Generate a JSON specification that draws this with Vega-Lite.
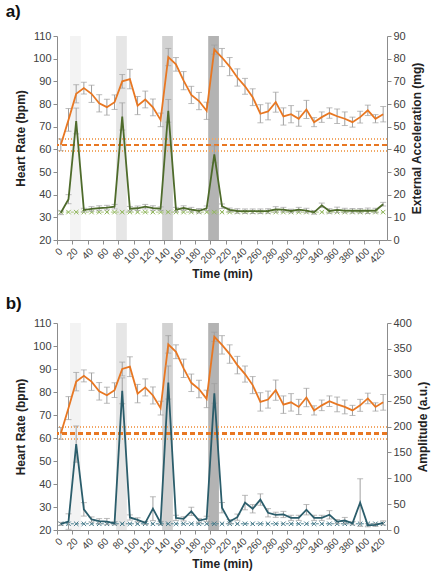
{
  "$schema": "https://vega.github.io/schema/vega-lite/v6.json",
  "padding": {"left": 5, "top": 3, "right": 4, "bottom": 4},
  "spacing": 15,
  "config": {
    "font": "Liberation Sans",
    "view": {"stroke": null},
    "axis": {
      "grid": false,
      "domainColor": "#8c8c8c",
      "tickColor": "#8c8c8c",
      "tickSize": 4,
      "labelColor": "#404040",
      "labelFontSize": 11,
      "titleFontSize": 12,
      "titleFontWeight": "bold",
      "titleColor": "#222222"
    },
    "title": {"fontSize": 17, "fontWeight": "bold", "anchor": "start", "color": "#111111"}
  },
  "datasets": {
    "bands": [
      {"s": 17, "e": 31, "block": 1},
      {"s": 77, "e": 91, "block": 2},
      {"s": 137, "e": 151, "block": 3},
      {"s": 197, "e": 211, "block": 4}
    ],
    "series": [
      {"t": 5, "hr": 62, "hrErr": 2.6, "acc": 12, "accErr": 0.8, "amp": 11.8, "ampErr": 3},
      {"t": 15, "hr": 73, "hrErr": 5, "acc": 18, "accErr": 2, "amp": 16.3, "ampErr": 15},
      {"t": 25, "hr": 84.5, "hrErr": 4, "acc": 52.5, "accErr": 5.7, "amp": 166, "ampErr": 35},
      {"t": 35, "hr": 87, "hrErr": 2.6, "acc": 13.2, "accErr": 0.8, "amp": 39.9, "ampErr": 13},
      {"t": 45, "hr": 84.5, "hrErr": 3.8, "acc": 13.7, "accErr": 1, "amp": 20.3, "ampErr": 5},
      {"t": 55, "hr": 80.3, "hrErr": 3.8, "acc": 14.1, "accErr": 1, "amp": 17, "ampErr": 5},
      {"t": 65, "hr": 78.6, "hrErr": 3.5, "acc": 14.3, "accErr": 1, "amp": 16.3, "ampErr": 6},
      {"t": 75, "hr": 80.8, "hrErr": 3.2, "acc": 14.7, "accErr": 1, "amp": 13, "ampErr": 3},
      {"t": 85, "hr": 90, "hrErr": 3, "acc": 54.5, "accErr": 6, "amp": 269, "ampErr": 25},
      {"t": 95, "hr": 91, "hrErr": 4.3, "acc": 13.8, "accErr": 1, "amp": 24.2, "ampErr": 5},
      {"t": 105, "hr": 79.3, "hrErr": 4, "acc": 14, "accErr": 1, "amp": 19.6, "ampErr": 4},
      {"t": 115, "hr": 82, "hrErr": 3.7, "acc": 14.7, "accErr": 1, "amp": 13.7, "ampErr": 3},
      {"t": 125, "hr": 78.5, "hrErr": 3.7, "acc": 14.1, "accErr": 1, "amp": 41.2, "ampErr": 23},
      {"t": 135, "hr": 73, "hrErr": 3, "acc": 13.8, "accErr": 0.8, "amp": 13.7, "ampErr": 3},
      {"t": 145, "hr": 100.7, "hrErr": 3.8, "acc": 57, "accErr": 5, "amp": 285, "ampErr": 32},
      {"t": 155, "hr": 97.5, "hrErr": 3, "acc": 13.4, "accErr": 1, "amp": 23.5, "ampErr": 5},
      {"t": 165, "hr": 90.3, "hrErr": 4, "acc": 14.1, "accErr": 1, "amp": 21.6, "ampErr": 4},
      {"t": 175, "hr": 84, "hrErr": 3.8, "acc": 13.4, "accErr": 1, "amp": 36, "ampErr": 8},
      {"t": 185, "hr": 81.3, "hrErr": 3.8, "acc": 12.9, "accErr": 1, "amp": 18.3, "ampErr": 4},
      {"t": 195, "hr": 77, "hrErr": 3.8, "acc": 14, "accErr": 1, "amp": 21.6, "ampErr": 5},
      {"t": 205, "hr": 104, "hrErr": 2, "acc": 37.8, "accErr": 3.7, "amp": 264, "ampErr": 19},
      {"t": 215, "hr": 100.5, "hrErr": 4, "acc": 14.9, "accErr": 1, "amp": 43.1, "ampErr": 10},
      {"t": 225, "hr": 96.5, "hrErr": 4, "acc": 13.3, "accErr": 0.8, "amp": 16.3, "ampErr": 4},
      {"t": 235, "hr": 91.7, "hrErr": 3.8, "acc": 12.8, "accErr": 1, "amp": 24.8, "ampErr": 6},
      {"t": 245, "hr": 87.8, "hrErr": 3.5, "acc": 12.7, "accErr": 1, "amp": 53, "ampErr": 14},
      {"t": 255, "hr": 83, "hrErr": 3.7, "acc": 12.7, "accErr": 1, "amp": 41, "ampErr": 8},
      {"t": 265, "hr": 75.7, "hrErr": 4, "acc": 12.7, "accErr": 1, "amp": 58.8, "ampErr": 11},
      {"t": 275, "hr": 76.7, "hrErr": 3.7, "acc": 12.8, "accErr": 1, "amp": 33.3, "ampErr": 8},
      {"t": 285, "hr": 80.8, "hrErr": 4.4, "acc": 13.5, "accErr": 1.2, "amp": 29.4, "ampErr": 5},
      {"t": 295, "hr": 74.5, "hrErr": 3.8, "acc": 13.4, "accErr": 1, "amp": 30, "ampErr": 6},
      {"t": 305, "hr": 75.5, "hrErr": 3.8, "acc": 12.8, "accErr": 0.8, "amp": 23.5, "ampErr": 5},
      {"t": 315, "hr": 73.5, "hrErr": 3.3, "acc": 13.4, "accErr": 1, "amp": 23.5, "ampErr": 5},
      {"t": 325, "hr": 77.6, "hrErr": 4, "acc": 13, "accErr": 1, "amp": 39.2, "ampErr": 10},
      {"t": 335, "hr": 72, "hrErr": 2, "acc": 12.2, "accErr": 0.8, "amp": 23.5, "ampErr": 5},
      {"t": 345, "hr": 74.2, "hrErr": 2.3, "acc": 15.3, "accErr": 1, "amp": 23.5, "ampErr": 5},
      {"t": 355, "hr": 76, "hrErr": 2.3, "acc": 12.8, "accErr": 1, "amp": 29.4, "ampErr": 8},
      {"t": 365, "hr": 74.6, "hrErr": 3.2, "acc": 13.3, "accErr": 1.2, "amp": 16.3, "ampErr": 4},
      {"t": 375, "hr": 73.5, "hrErr": 3, "acc": 13, "accErr": 1, "amp": 18.3, "ampErr": 6},
      {"t": 385, "hr": 72, "hrErr": 2.2, "acc": 12.9, "accErr": 1, "amp": 13, "ampErr": 3},
      {"t": 395, "hr": 74.2, "hrErr": 2.6, "acc": 12.9, "accErr": 1, "amp": 53, "ampErr": 46},
      {"t": 405, "hr": 77.2, "hrErr": 2.3, "acc": 12.9, "accErr": 1.2, "amp": 9.2, "ampErr": 3},
      {"t": 415, "hr": 73.5, "hrErr": 1.8, "acc": 13, "accErr": 1, "amp": 9.8, "ampErr": 3},
      {"t": 425, "hr": 75.5, "hrErr": 3.4, "acc": 15.8, "accErr": 0.8, "amp": 13.7, "ampErr": 4}
    ]
  },
  "vconcat": [
    {
      "title": {"text": "a)", "dx": -9, "offset": 9},
      "width": 330,
      "height": 204,
      "data": {"name": "series"},
      "resolve": {"scale": {"y": "independent"}},
      "layer": [
        {
          "layer": [
            {
              "data": {"name": "bands"},
              "mark": {"type": "rect"},
              "encoding": {
                "x": {"field": "s", "type": "quantitative", "scale": {"domain": [0, 430], "nice": false, "zero": false}, "title": "Time (min)", "axis": {"values": [0, 20, 40, 60, 80, 100, 120, 140, 160, 180, 200, 220, 240, 260, 280, 300, 320, 340, 360, 380, 400, 420], "labelAngle": -45, "labelFontSize": 10, "labelOverlap": false, "titlePadding": 4}},
                "x2": {"field": "e"},
                "color": {"field": "block", "type": "nominal", "scale": {"domain": [1, 2, 3, 4], "range": ["#f3f3f3", "#e6e6e6", "#d2d2d2", "#b3b3b3"]}, "legend": null}
              }
            },
            {
              "mark": {"type": "rule", "color": "#f0a868", "strokeWidth": 1, "strokeDash": [1, 2]},
              "encoding": {"y": {"datum": 64.6, "type": "quantitative", "scale": {"domain": [20, 110], "nice": false}, "title": "Heart Rate (bpm)", "axis": {"orient": "left", "values": [20, 30, 40, 50, 60, 70, 80, 90, 100, 110], "titlePadding": 5}}}
            },
            {
              "mark": {"type": "rule", "color": "#f0a868", "strokeWidth": 1, "strokeDash": [1, 2]},
              "encoding": {"y": {"datum": 59.4, "type": "quantitative", "scale": {"domain": [20, 110], "nice": false}, "title": "Heart Rate (bpm)", "axis": {"orient": "left", "values": [20, 30, 40, 50, 60, 70, 80, 90, 100, 110], "titlePadding": 5}}}
            },
            {
              "mark": {"type": "rule", "color": "#e87722", "strokeWidth": 1.6, "strokeDash": [5, 3]},
              "encoding": {"y": {"datum": 62, "type": "quantitative", "scale": {"domain": [20, 110], "nice": false}, "title": "Heart Rate (bpm)", "axis": {"orient": "left", "values": [20, 30, 40, 50, 60, 70, 80, 90, 100, 110], "titlePadding": 5}}}
            },
            {
              "mark": {"type": "errorbar", "ticks": {"size": 6}, "color": "#a0a0a0", "thickness": 1},
              "encoding": {
                "x": {"field": "t", "type": "quantitative", "scale": {"domain": [0, 430], "nice": false, "zero": false}, "title": "Time (min)", "axis": {"values": [0, 20, 40, 60, 80, 100, 120, 140, 160, 180, 200, 220, 240, 260, 280, 300, 320, 340, 360, 380, 400, 420], "labelAngle": -45, "labelFontSize": 10, "labelOverlap": false, "titlePadding": 4}},
                "y": {"field": "hr", "type": "quantitative", "scale": {"domain": [20, 110], "nice": false}, "title": "Heart Rate (bpm)", "axis": {"orient": "left", "values": [20, 30, 40, 50, 60, 70, 80, 90, 100, 110], "titlePadding": 5}},
                "yError": {"field": "hrErr"}
              }
            },
            {
              "mark": {"type": "line", "color": "#e87722", "strokeWidth": 1.8},
              "encoding": {
                "x": {"field": "t", "type": "quantitative", "scale": {"domain": [0, 430], "nice": false, "zero": false}, "title": "Time (min)", "axis": {"values": [0, 20, 40, 60, 80, 100, 120, 140, 160, 180, 200, 220, 240, 260, 280, 300, 320, 340, 360, 380, 400, 420], "labelAngle": -45, "labelFontSize": 10, "labelOverlap": false, "titlePadding": 4}},
                "y": {"field": "hr", "type": "quantitative", "scale": {"domain": [20, 110], "nice": false}, "title": "Heart Rate (bpm)", "axis": {"orient": "left", "values": [20, 30, 40, 50, 60, 70, 80, 90, 100, 110], "titlePadding": 5}}
              }
            }
          ]
        },
        {
          "layer": [
            {
              "mark": {"type": "line", "color": "#a8c77c", "strokeWidth": 1, "strokeDash": [3, 2]},
              "encoding": {
                "x": {"field": "t", "type": "quantitative", "scale": {"domain": [0, 430], "nice": false, "zero": false}, "title": "Time (min)", "axis": {"values": [0, 20, 40, 60, 80, 100, 120, 140, 160, 180, 200, 220, 240, 260, 280, 300, 320, 340, 360, 380, 400, 420], "labelAngle": -45, "labelFontSize": 10, "labelOverlap": false, "titlePadding": 4}},
                "y": {"datum": 12.3, "type": "quantitative", "scale": {"domain": [0, 90], "nice": false}, "title": "External Acceleration (mg)", "axis": {"orient": "right", "values": [0, 10, 20, 30, 40, 50, 60, 70, 80, 90], "titlePadding": 6, "titleAngle": 270, "titleBaseline": "top"}}
              }
            },
            {
              "mark": {"type": "point", "shape": "M-1,-1L1,1M-1,1L1,-1", "size": 20, "strokeWidth": 1, "color": "#8fb55a", "opacity": 1},
              "encoding": {
                "x": {"field": "t", "type": "quantitative", "scale": {"domain": [0, 430], "nice": false, "zero": false}, "title": "Time (min)", "axis": {"values": [0, 20, 40, 60, 80, 100, 120, 140, 160, 180, 200, 220, 240, 260, 280, 300, 320, 340, 360, 380, 400, 420], "labelAngle": -45, "labelFontSize": 10, "labelOverlap": false, "titlePadding": 4}},
                "y": {"datum": 12.3, "type": "quantitative", "scale": {"domain": [0, 90], "nice": false}, "title": "External Acceleration (mg)", "axis": {"orient": "right", "values": [0, 10, 20, 30, 40, 50, 60, 70, 80, 90], "titlePadding": 6, "titleAngle": 270, "titleBaseline": "top"}}
              }
            },
            {
              "mark": {"type": "errorbar", "ticks": {"size": 6}, "color": "#a0a0a0", "thickness": 1},
              "encoding": {
                "x": {"field": "t", "type": "quantitative", "scale": {"domain": [0, 430], "nice": false, "zero": false}, "title": "Time (min)", "axis": {"values": [0, 20, 40, 60, 80, 100, 120, 140, 160, 180, 200, 220, 240, 260, 280, 300, 320, 340, 360, 380, 400, 420], "labelAngle": -45, "labelFontSize": 10, "labelOverlap": false, "titlePadding": 4}},
                "y": {"field": "acc", "type": "quantitative", "scale": {"domain": [0, 90], "nice": false}, "title": "External Acceleration (mg)", "axis": {"orient": "right", "values": [0, 10, 20, 30, 40, 50, 60, 70, 80, 90], "titlePadding": 6, "titleAngle": 270, "titleBaseline": "top"}},
                "yError": {"field": "accErr"}
              }
            },
            {
              "mark": {"type": "line", "color": "#4e6b2b", "strokeWidth": 1.8},
              "encoding": {
                "x": {"field": "t", "type": "quantitative", "scale": {"domain": [0, 430], "nice": false, "zero": false}, "title": "Time (min)", "axis": {"values": [0, 20, 40, 60, 80, 100, 120, 140, 160, 180, 200, 220, 240, 260, 280, 300, 320, 340, 360, 380, 400, 420], "labelAngle": -45, "labelFontSize": 10, "labelOverlap": false, "titlePadding": 4}},
                "y": {"field": "acc", "type": "quantitative", "scale": {"domain": [0, 90], "nice": false}, "title": "External Acceleration (mg)", "axis": {"orient": "right", "values": [0, 10, 20, 30, 40, 50, 60, 70, 80, 90], "titlePadding": 6, "titleAngle": 270, "titleBaseline": "top"}}
              }
            }
          ]
        }
      ]
    },
    {
      "title": {"text": "b)", "dx": -9, "offset": 4},
      "width": 330,
      "height": 207,
      "data": {"name": "series"},
      "resolve": {"scale": {"y": "independent"}},
      "layer": [
        {
          "layer": [
            {
              "data": {"name": "bands"},
              "mark": {"type": "rect"},
              "encoding": {
                "x": {"field": "s", "type": "quantitative", "scale": {"domain": [0, 430], "nice": false, "zero": false}, "title": "Time (min)", "axis": {"values": [0, 20, 40, 60, 80, 100, 120, 140, 160, 180, 200, 220, 240, 260, 280, 300, 320, 340, 360, 380, 400, 420], "labelAngle": -45, "labelFontSize": 10, "labelOverlap": false, "titlePadding": 4}},
                "x2": {"field": "e"},
                "color": {"field": "block", "type": "nominal", "scale": {"domain": [1, 2, 3, 4], "range": ["#f3f3f3", "#e6e6e6", "#d2d2d2", "#b3b3b3"]}, "legend": null}
              }
            },
            {
              "mark": {"type": "rule", "color": "#f0a868", "strokeWidth": 1, "strokeDash": [1, 2]},
              "encoding": {"y": {"datum": 64.6, "type": "quantitative", "scale": {"domain": [20, 110], "nice": false}, "title": "Heart Rate (bpm)", "axis": {"orient": "left", "values": [20, 30, 40, 50, 60, 70, 80, 90, 100, 110], "titlePadding": 5}}}
            },
            {
              "mark": {"type": "rule", "color": "#f0a868", "strokeWidth": 1, "strokeDash": [1, 2]},
              "encoding": {"y": {"datum": 59.4, "type": "quantitative", "scale": {"domain": [20, 110], "nice": false}, "title": "Heart Rate (bpm)", "axis": {"orient": "left", "values": [20, 30, 40, 50, 60, 70, 80, 90, 100, 110], "titlePadding": 5}}}
            },
            {
              "mark": {"type": "rule", "color": "#e87722", "strokeWidth": 1.6, "strokeDash": [5, 3]},
              "encoding": {"y": {"datum": 62, "type": "quantitative", "scale": {"domain": [20, 110], "nice": false}, "title": "Heart Rate (bpm)", "axis": {"orient": "left", "values": [20, 30, 40, 50, 60, 70, 80, 90, 100, 110], "titlePadding": 5}}}
            },
            {
              "mark": {"type": "errorbar", "ticks": {"size": 6}, "color": "#a0a0a0", "thickness": 1},
              "encoding": {
                "x": {"field": "t", "type": "quantitative", "scale": {"domain": [0, 430], "nice": false, "zero": false}, "title": "Time (min)", "axis": {"values": [0, 20, 40, 60, 80, 100, 120, 140, 160, 180, 200, 220, 240, 260, 280, 300, 320, 340, 360, 380, 400, 420], "labelAngle": -45, "labelFontSize": 10, "labelOverlap": false, "titlePadding": 4}},
                "y": {"field": "hr", "type": "quantitative", "scale": {"domain": [20, 110], "nice": false}, "title": "Heart Rate (bpm)", "axis": {"orient": "left", "values": [20, 30, 40, 50, 60, 70, 80, 90, 100, 110], "titlePadding": 5}},
                "yError": {"field": "hrErr"}
              }
            },
            {
              "mark": {"type": "line", "color": "#e87722", "strokeWidth": 1.8},
              "encoding": {
                "x": {"field": "t", "type": "quantitative", "scale": {"domain": [0, 430], "nice": false, "zero": false}, "title": "Time (min)", "axis": {"values": [0, 20, 40, 60, 80, 100, 120, 140, 160, 180, 200, 220, 240, 260, 280, 300, 320, 340, 360, 380, 400, 420], "labelAngle": -45, "labelFontSize": 10, "labelOverlap": false, "titlePadding": 4}},
                "y": {"field": "hr", "type": "quantitative", "scale": {"domain": [20, 110], "nice": false}, "title": "Heart Rate (bpm)", "axis": {"orient": "left", "values": [20, 30, 40, 50, 60, 70, 80, 90, 100, 110], "titlePadding": 5}}
              }
            }
          ]
        },
        {
          "layer": [
            {
              "mark": {"type": "line", "color": "#4d8594", "strokeWidth": 1, "strokeDash": [3, 2]},
              "encoding": {
                "x": {"field": "t", "type": "quantitative", "scale": {"domain": [0, 430], "nice": false, "zero": false}, "title": "Time (min)", "axis": {"values": [0, 20, 40, 60, 80, 100, 120, 140, 160, 180, 200, 220, 240, 260, 280, 300, 320, 340, 360, 380, 400, 420], "labelAngle": -45, "labelFontSize": 10, "labelOverlap": false, "titlePadding": 4}},
                "y": {"datum": 12, "type": "quantitative", "scale": {"domain": [0, 400], "nice": false}, "title": "Amplitude (a.u.)", "axis": {"orient": "right", "values": [0, 50, 100, 150, 200, 250, 300, 350, 400], "titlePadding": 6, "titleAngle": 270, "titleBaseline": "top"}}
              }
            },
            {
              "mark": {"type": "point", "shape": "M-1,-1L1,1M-1,1L1,-1", "size": 20, "strokeWidth": 1, "color": "#3f7585", "opacity": 1},
              "encoding": {
                "x": {"field": "t", "type": "quantitative", "scale": {"domain": [0, 430], "nice": false, "zero": false}, "title": "Time (min)", "axis": {"values": [0, 20, 40, 60, 80, 100, 120, 140, 160, 180, 200, 220, 240, 260, 280, 300, 320, 340, 360, 380, 400, 420], "labelAngle": -45, "labelFontSize": 10, "labelOverlap": false, "titlePadding": 4}},
                "y": {"datum": 12, "type": "quantitative", "scale": {"domain": [0, 400], "nice": false}, "title": "Amplitude (a.u.)", "axis": {"orient": "right", "values": [0, 50, 100, 150, 200, 250, 300, 350, 400], "titlePadding": 6, "titleAngle": 270, "titleBaseline": "top"}}
              }
            },
            {
              "mark": {"type": "errorbar", "ticks": {"size": 6}, "color": "#a0a0a0", "thickness": 1},
              "encoding": {
                "x": {"field": "t", "type": "quantitative", "scale": {"domain": [0, 430], "nice": false, "zero": false}, "title": "Time (min)", "axis": {"values": [0, 20, 40, 60, 80, 100, 120, 140, 160, 180, 200, 220, 240, 260, 280, 300, 320, 340, 360, 380, 400, 420], "labelAngle": -45, "labelFontSize": 10, "labelOverlap": false, "titlePadding": 4}},
                "y": {"field": "amp", "type": "quantitative", "scale": {"domain": [0, 400], "nice": false}, "title": "Amplitude (a.u.)", "axis": {"orient": "right", "values": [0, 50, 100, 150, 200, 250, 300, 350, 400], "titlePadding": 6, "titleAngle": 270, "titleBaseline": "top"}},
                "yError": {"field": "ampErr"}
              }
            },
            {
              "mark": {"type": "line", "color": "#2b5d6b", "strokeWidth": 1.8},
              "encoding": {
                "x": {"field": "t", "type": "quantitative", "scale": {"domain": [0, 430], "nice": false, "zero": false}, "title": "Time (min)", "axis": {"values": [0, 20, 40, 60, 80, 100, 120, 140, 160, 180, 200, 220, 240, 260, 280, 300, 320, 340, 360, 380, 400, 420], "labelAngle": -45, "labelFontSize": 10, "labelOverlap": false, "titlePadding": 4}},
                "y": {"field": "amp", "type": "quantitative", "scale": {"domain": [0, 400], "nice": false}, "title": "Amplitude (a.u.)", "axis": {"orient": "right", "values": [0, 50, 100, 150, 200, 250, 300, 350, 400], "titlePadding": 6, "titleAngle": 270, "titleBaseline": "top"}}
              }
            }
          ]
        }
      ]
    }
  ]
}
